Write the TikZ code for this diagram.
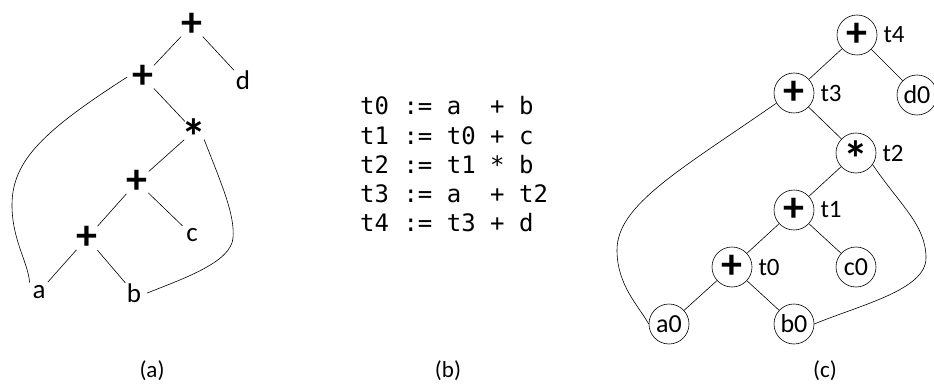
\documentclass[tikz,border=0pt]{standalone}
\usepackage{fontspec}
\setmainfont{Carlito}
\newfontfamily\codefont{DejaVu Sans Mono}
\newcommand{\bigast}{\raisebox{-24pt}[0pt][0pt]{\fontsize{50}{50}\selectfont *}}
\begin{document}
\begin{tikzpicture}[x=1pt,y=-1pt,
  lbl/.style={font=\fontsize{23}{23}\selectfont, inner sep=0pt},
  opa/.style={circle, minimum size=26pt, inner sep=0pt, font=\fontsize{42}{42}\selectfont\bfseries},
  leafa/.style={circle, minimum size=26pt, inner sep=0pt, font=\fontsize{27}{27}\selectfont},
  opc/.style={circle, draw, line width=0.6pt, minimum size=40pt, inner sep=0pt, font=\fontsize{42}{42}\selectfont\bfseries},
  leafc/.style={circle, draw, line width=0.6pt, minimum size=40pt, inner sep=0pt, font=\fontsize{26}{26}\selectfont},
  tl/.style={font=\fontsize{25}{25}\selectfont, inner sep=0pt, anchor=west},
  codeline/.style={font=\codefont\fontsize{24}{29}\selectfont, inner sep=0pt, anchor=base west},
  edge/.style={line width=0.6pt}
]
\useasboundingbox (0,0) rectangle (934,385);
% ---------- (a) ----------
\node[opa] (a4) at (192,25) {+};
\node[opa] (a3) at (143,77) {+};
\node[leafa] (ad) at (243,80) {d};
\node[opa] (a2) at (194,131) {\bigast};
\node[opa] (a1) at (137,182) {+};
\node[leafa] (ac) at (192,235) {c};
\node[opa] (a0) at (87,238) {+};
\node[leafa] (aa) at (39,292) {a};
\node[leafa] (ab) at (134,293) {b};
\draw[edge] (a4) -- (a3);
\draw[edge] (a4) -- (ad);
\draw[edge] (a3) -- (a2);
\draw[edge] (a2) -- (a1);
\draw[edge] (a1) -- (ac);
\draw[edge] (a1) -- (a0);
\draw[edge] (a0) -- (aa);
\draw[edge] (a0) -- (ab);
\draw[edge] (a3.west) .. controls (45,130) and (12,160) .. (12,205)
   .. controls (12,240) and (28,262) .. (aa.north west);
\draw[edge] (a2.-40) .. controls (222,185) and (235,215) .. (233,238)
   .. controls (231,262) and (185,278) .. (ab.east);
\node[lbl] (capa) at (152,371) {(a)};
% ---------- (b) ----------
\node[codeline] (l0) at (360,115) {t0 := a~~+ b};
\node[codeline] (l1) at (360,144) {t1 := t0 + c};
\node[codeline] (l2) at (360,173) {t2 := t1 * b};
\node[codeline] (l3) at (360,202) {t3 := a~~+ t2};
\node[codeline] (l4) at (360,231) {t4 := t3 + d};
\node[lbl] (capb) at (448,371) {(b)};
% ---------- (c) ----------
\node[opc] (c4) at (857,35) {+};
\node[opc] (c3) at (794,93) {+};
\node[leafc] (cd) at (917,95) {d0};
\node[opc] (c2) at (856,153) {\bigast};
\node[opc] (c1) at (794,210) {+};
\node[leafc] (cc) at (856,267) {c0};
\node[opc] (c0) at (732,267) {+};
\node[leafc] (ca) at (669,324) {a0};
\node[leafc] (cb) at (794,324) {b0};
\node[tl] (t4) at ([xshift=6pt]c4.east) {t4};
\node[tl] (t3) at ([xshift=6pt]c3.east) {t3};
\node[tl] (t2) at ([xshift=6pt]c2.east) {t2};
\node[tl] (t1) at ([xshift=6pt]c1.east) {t1};
\node[tl] (t0) at ([xshift=6pt]c0.east) {t0};
\draw[edge] (c4) -- (c3);
\draw[edge] (c4) -- (cd);
\draw[edge] (c3) -- (c2);
\draw[edge] (c2) -- (c1);
\draw[edge] (c1) -- (cc);
\draw[edge] (c1) -- (c0);
\draw[edge] (c0) -- (ca);
\draw[edge] (c0) -- (cb);
\draw[edge] (c3.210) .. controls (680,170) and (617,205) .. (617,250)
   .. controls (617,285) and (638,305) .. (ca.west);
\draw[edge] (c2.-35) .. controls (900,205) and (926,225) .. (926,258)
   .. controls (926,290) and (860,305) .. (cb.east);
\node[lbl] (capc) at (825,371) {(c)};
\end{tikzpicture}
\end{document}
